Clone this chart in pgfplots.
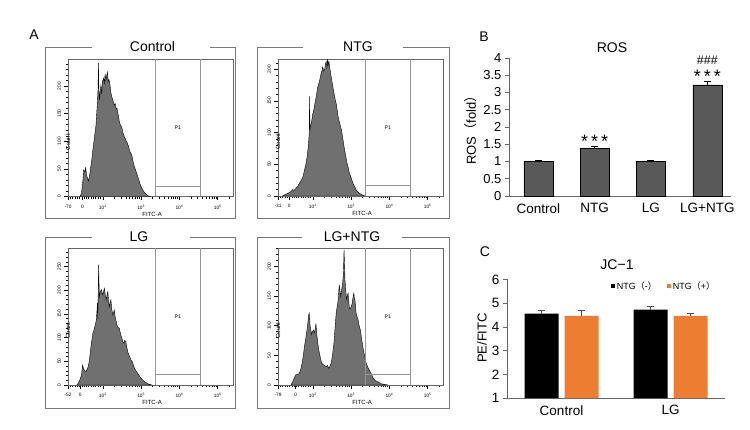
\documentclass[border=0pt]{standalone}
\usepackage{pgfplots}
\pgfplotsset{compat=1.18}
\usepackage{fontspec}
\setmainfont{Liberation Sans}
\newfontfamily\cjk{Noto Sans CJK SC}
\definecolor{histfill}{RGB}{112,112,112}
\definecolor{barB}{RGB}{89,89,89}
\definecolor{orangeC}{RGB}{237,125,49}
\definecolor{frameg}{RGB}{120,120,120}
\definecolor{gateg}{RGB}{150,150,150}
\newcommand{\fs}[1]{\fontsize{#1pt}{#1pt}\selectfont}
\pgfplotsset{
  /pgf/number format/assume math mode=true,
  hist/.style={
    scale only axis, width=165pt, height=137pt,
    xmin=1.09, xmax=5.40, ymin=0,
    clip mode=individual,
    axis line style={black!60, line width=0.45pt},
    tick align=outside,
    major tick length=3.6pt, minor tick length=2.2pt,
    every tick/.style={black, line width=0.45pt},
    xtick pos=bottom, ytick pos=left,
    ytick={0,50,100,150,200,250},
    minor ytick={10,20,30,40,60,70,80,90,110,120,130,140,160,170,180,190,210,220,230,240,260,270,280},
    minor xtick={1.15,1.21,1.27,1.33,1.39,1.45,1.51,1.57,1.63,1.69,1.75,1.81,1.87,1.93,
      2.301,2.477,2.602,2.699,2.778,2.845,2.903,2.954,
      3.301,3.477,3.602,3.699,3.778,3.845,3.903,3.954,
      4.301,4.477,4.602,4.699,4.778,4.845,4.903,4.954,5.301},
    xticklabel style={font=\fs{4.8}, yshift=-1.5pt},
    yticklabel style={font=\fs{4.8}, rotate=90, anchor=south},
  },
  histplot/.style={fill=histfill, draw=black, line width=0.4pt},
}
\newcommand{\gates}{%
  \draw[gateg, line width=0.55pt] (rel axis cs:0.529,0) -- (rel axis cs:0.529,1)
     (rel axis cs:0.803,0) -- (rel axis cs:0.803,1)
     (rel axis cs:0.529,0.078) -- (rel axis cs:0.803,0.078);
  \node[font=\fs{5.2}] at (rel axis cs:0.666,0.5) {P1};
  \node[font=\fs{6}] at (rel axis cs:0.51,0) [yshift=-17.5pt] {FITC-A};
  \node[font=\fs{6}, rotate=90] at (rel axis cs:0,0.5) [xshift=-14pt] {Count};
}
\begin{document}
\begin{tikzpicture}[x=1pt,y=1pt]
\path[use as bounding box] (0,0) rectangle (750,-430);

% ---------- Panel A: Control
\begin{axis}[hist, at={(68pt,-196.5pt)}, anchor=south west, ymax=248,
  xtick={1.09,1.47,2,3,4,5},
  xticklabels={-70,0,10\textsuperscript{2},10\textsuperscript{3},10\textsuperscript{4},10\textsuperscript{5}}]
\addplot[histplot] coordinates {(1.40,0)(1.44,5)(1.48,30)(1.50,48)(1.53,44)(1.55,52)(1.58,38)(1.62,28)(1.65,36)(1.68,52)(1.71,66)(1.74,85)(1.77,101)(1.80,118)(1.82,128)(1.84,150)(1.86,172)(1.875,195)(1.885,242)(1.895,200)(1.91,174)(1.93,190)(1.95,201)(1.97,186)(1.99,208)(2.02,214)(2.04,205)(2.06,222)(2.08,210)(2.10,218)(2.12,225)(2.14,208)(2.16,212)(2.19,201)(2.21,188)(2.23,182)(2.26,174)(2.28,170)(2.30,165)(2.32,168)(2.35,158)(2.37,160)(2.39,150)(2.41,146)(2.43,136)(2.45,131)(2.48,127)(2.50,124)(2.52,116)(2.54,113)(2.56,108)(2.58,106)(2.61,100)(2.63,99)(2.65,94)(2.67,92)(2.69,85)(2.71,81)(2.74,77)(2.76,74)(2.78,66)(2.80,60)(2.82,55)(2.84,51)(2.87,45)(2.89,41)(2.91,36)(2.93,32)(2.95,28)(2.97,23)(3.00,18)(3.02,15)(3.04,12)(3.06,10)(3.08,8)(3.10,6)(3.13,4)(3.15,3)(3.19,1)(3.23,0)} \closedcycle;
\gates
\end{axis}

% ---------- Panel A: NTG
\begin{axis}[hist, at={(278pt,-196pt)}, anchor=south west, ymax=216,
  xtick={1.09,1.38,2,3,4,5},
  xticklabels={-31,0,10\textsuperscript{2},10\textsuperscript{3},10\textsuperscript{4},10\textsuperscript{5}}]
\addplot[histplot] coordinates {(1.21,0)(1.26,2)(1.30,3)(1.35,4)(1.39,6)(1.43,7)(1.47,10)(1.51,9)(1.56,12)(1.60,15)(1.65,20)(1.69,24)(1.74,30)(1.78,40)(1.82,51)(1.85,62)(1.87,72)(1.89,85)(1.905,99)(1.915,157)(1.925,104)(1.94,110)(1.96,115)(1.98,122)(2.00,130)(2.02,134)(2.04,141)(2.06,148)(2.09,157)(2.11,165)(2.13,173)(2.15,176)(2.18,183)(2.20,189)(2.22,194)(2.24,198)(2.26,204)(2.28,197)(2.31,200)(2.33,208)(2.35,212)(2.37,203)(2.385,216)(2.40,206)(2.42,212)(2.44,203)(2.46,195)(2.48,188)(2.50,180)(2.53,170)(2.55,163)(2.57,157)(2.59,150)(2.61,146)(2.64,134)(2.66,125)(2.68,120)(2.70,115)(2.73,108)(2.75,104)(2.77,95)(2.79,88)(2.81,80)(2.83,72)(2.86,63)(2.88,56)(2.90,50)(2.92,46)(2.94,40)(2.96,35)(2.99,30)(3.01,27)(3.03,23)(3.05,20)(3.08,16)(3.10,14)(3.12,11)(3.14,9)(3.18,6)(3.23,4)(3.28,2)(3.32,1)(3.36,0)} \closedcycle;
\gates
\end{axis}

% ---------- Panel A: LG
\begin{axis}[hist, at={(68pt,-385pt)}, anchor=south west, ymax=289,
  xtick={1.09,1.41,2,3,4,5},
  xticklabels={-52,0,10\textsuperscript{2},10\textsuperscript{3},10\textsuperscript{4},10\textsuperscript{5}}]
\addplot[histplot] coordinates {(1.32,0)(1.36,4)(1.40,11)(1.43,18)(1.45,25)(1.47,42)(1.49,36)(1.51,32)(1.54,30)(1.56,28)(1.59,33)(1.62,39)(1.64,48)(1.66,60)(1.68,74)(1.70,88)(1.72,98)(1.74,109)(1.77,116)(1.79,123)(1.81,130)(1.83,137)(1.85,160)(1.86,173)(1.87,140)(1.88,200)(1.89,254)(1.90,215)(1.91,187)(1.93,196)(1.96,201)(1.98,195)(2.00,190)(2.02,198)(2.04,204)(2.06,192)(2.09,180)(2.11,190)(2.13,197)(2.15,178)(2.17,165)(2.19,173)(2.21,180)(2.23,162)(2.26,148)(2.28,152)(2.30,158)(2.32,145)(2.34,137)(2.36,130)(2.38,123)(2.40,121)(2.43,120)(2.45,112)(2.47,106)(2.49,100)(2.51,95)(2.53,90)(2.55,88)(2.57,94)(2.60,92)(2.62,82)(2.64,74)(2.66,68)(2.68,63)(2.70,60)(2.72,56)(2.74,52)(2.77,49)(2.79,44)(2.81,39)(2.83,35)(2.85,32)(2.90,26)(2.94,21)(2.98,16)(3.02,12)(3.06,9)(3.11,6)(3.15,4)(3.19,2)(3.28,0)} \closedcycle;
\gates
\end{axis}

% ---------- Panel A: LG+NTG
\begin{axis}[hist, at={(278pt,-385pt)}, anchor=south west, ymax=231,
  xtick={1.09,1.55,2,3,4,5},
  xticklabels={-79,0,10\textsuperscript{2},10\textsuperscript{3},10\textsuperscript{4},10\textsuperscript{5}}]
\addplot[histplot] coordinates {(1.43,0)(1.47,5)(1.51,11)(1.53,14)(1.55,17)(1.60,18)(1.64,19)(1.66,22)(1.68,25)(1.70,31)(1.72,37)(1.74,45)(1.76,54)(1.78,65)(1.81,76)(1.83,86)(1.85,93)(1.87,105)(1.89,118)(1.905,121)(1.92,108)(1.93,99)(1.95,92)(1.97,85)(1.99,90)(2.02,93)(2.04,88)(2.06,93)(2.08,104)(2.10,88)(2.12,76)(2.14,66)(2.17,54)(2.20,45)(2.23,37)(2.26,35)(2.29,34)(2.32,32)(2.35,31)(2.38,33)(2.42,28)(2.45,32)(2.48,37)(2.50,45)(2.52,54)(2.55,70)(2.57,87)(2.59,105)(2.61,121)(2.63,130)(2.65,138)(2.67,150)(2.69,169)(2.71,158)(2.73,149)(2.75,160)(2.78,172)(2.80,190)(2.815,228)(2.83,200)(2.84,177)(2.86,160)(2.88,144)(2.90,150)(2.92,155)(2.94,140)(2.95,132)(2.97,128)(2.99,130)(3.01,134)(3.03,138)(3.05,148)(3.07,155)(3.09,144)(3.10,144)(3.13,121)(3.15,116)(3.18,110)(3.21,100)(3.24,93)(3.26,84)(3.28,76)(3.30,67)(3.32,59)(3.35,50)(3.37,42)(3.39,38)(3.41,34)(3.45,28)(3.49,23)(3.54,17)(3.58,11)(3.62,8)(3.70,5)(3.79,2)(3.87,1)(3.96,0)} \closedcycle;
\gates
\end{axis}

% frames and titles for panel A
\draw[frameg, line width=0.6pt] (92,-47) -- (45,-47) -- (45,-218) -- (235,-218) -- (235,-47) -- (210,-47);
\draw[frameg, line width=0.6pt] (303,-47) -- (257,-47) -- (257,-218) -- (449,-218) -- (449,-47) -- (403,-47);
\draw[frameg, line width=0.6pt] (92,-237) -- (45,-237) -- (45,-408) -- (235,-408) -- (235,-237) -- (190,-237);
\draw[frameg, line width=0.6pt] (302,-237) -- (257,-237) -- (257,-408) -- (449,-408) -- (449,-237) -- (402,-237);
\node[font=\fs{14}, anchor=base] at (152.5,-52) {Control};
\node[font=\fs{14}, anchor=base] at (358,-52) {NTG};
\node[font=\fs{14}, anchor=base] at (139,-242) {LG};
\node[font=\fs{14}, anchor=base] at (352,-242) {LG+NTG};
\node[font=\fs{14}] at (34,-35) {A};

% ---------- Panel B
\begin{axis}[at={(509pt,-196pt)}, anchor=south west, scale only axis,
  width=222pt, height=138pt,
  xmin=-0.52, xmax=3.42, ymin=0, ymax=4,
  axis x line=bottom, axis y line=left,
  x axis line style={-, black!60, line width=0.6pt},
  y axis line style={-, black!60, line width=0.6pt},
  tick align=outside, major tick length=4pt,
  xtick={0,1,2,3}, xticklabels={Control,NTG,LG,LG+NTG},
  major x tick style={draw=none},
  ytick={0,0.5,1,1.5,2,2.5,3,3.5,4},
  yticklabels={0,0.5,1,1.5,2,2.5,3,3.5,4},
  ytick style={black!60, line width=0.6pt},
  xticklabel style={font=\fs{13.5}},
  yticklabel style={font=\fs{13}},
  ybar, bar width=29pt,
  clip=false]
\addplot[fill=barB, draw=black, line width=0.5pt,
  error bars/.cd, y dir=plus, y explicit,
  error bar style={black, line width=0.7pt},
  error mark options={rotate=90, mark size=3.5pt, black, line width=0.7pt}]
  coordinates {(0,1.0) +- (0,0.02) (1,1.38) +- (0,0.05) (2,1.0) +- (0,0.02) (3,3.22) +- (0,0.1)};
\node[font=\fs{18}, anchor=base] at (axis cs:1,1.42) {*\,*\,*};
\node[font=\fs{18}, anchor=base] at (axis cs:3,3.30) {*\,*\,*};
\node[font=\fs{12.5}, anchor=base] at (axis cs:3,3.81) {\#\#\#};
\end{axis}
\node[font=\fs{14}] at (484,-37) {B};
\node[font=\fs{14}, anchor=base] at (612,-53) {ROS};
\node[font=\fs{13}, rotate=90] at (471,-127) {ROS{\cjk （}fold{\cjk ）}};

% ---------- Panel C
\begin{axis}[at={(507pt,-398pt)}, anchor=south west, scale only axis,
  width=218pt, height=118.5pt,
  xmin=-0.5, xmax=1.5, ymin=1, ymax=6,
  axis x line=bottom, axis y line=left,
  x axis line style={-, black!60, line width=0.6pt},
  y axis line style={-, black!60, line width=0.6pt},
  tick align=outside, major tick length=4pt,
  xtick={0,1}, xticklabels={Control,LG},
  major x tick style={draw=none},
  ytick={1,2,3,4,5,6},
  ytick style={black!60, line width=0.6pt},
  ticklabel style={font=\fs{13.5}},
  ybar=6pt, bar width=34pt,
  legend style={draw=none, fill=none, at={(0.476,0.945)}, anchor=west,
    legend columns=2, font=\fs{9}, inner sep=0pt,
    /tikz/every even column/.append style={column sep=8pt}},
  legend image code/.code={\fill[#1] (0pt,-2pt) rectangle (4pt,2pt);},
  clip=false]
\addplot[fill=black, draw=none,
  error bars/.cd, y dir=plus, y explicit,
  error bar style={black!70, line width=0.7pt},
  error mark options={rotate=90, mark size=3.5pt, black!70, line width=0.7pt}]
  coordinates {(0,4.56) +- (0,0.14) (1,4.73) +- (0,0.13)};
\addplot[fill=orangeC, draw=none,
  error bars/.cd, y dir=plus, y explicit,
  error bar style={black!70, line width=0.7pt},
  error mark options={rotate=90, mark size=3.5pt, black!70, line width=0.7pt}]
  coordinates {(0,4.46) +- (0,0.24) (1,4.46) +- (0,0.10)};
\legend{NTG{\cjk （}-{\cjk ）}, NTG{\cjk （}+{\cjk ）}}
\end{axis}
\node[font=\fs{14}] at (485,-252) {C};
\node[font=\fs{14}, anchor=base] at (617,-270) {JC\textminus 1};
\node[font=\fs{13}, rotate=90] at (482,-338) {PE/FITC};
\end{tikzpicture}
\end{document}
